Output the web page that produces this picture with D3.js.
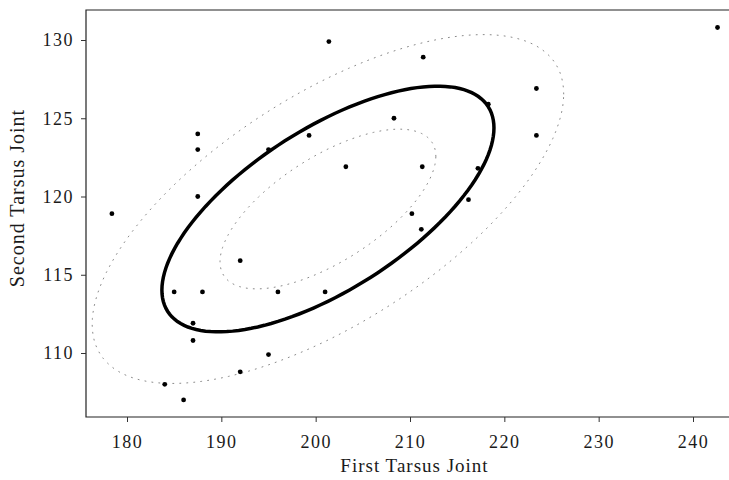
<html>
<head>
  <style>
    body { margin: 0; background: #fff; }
    svg text {
      font-family: "Liberation Serif", "DejaVu Serif", serif;
      fill: #1a1a1a;
    }
    svg .tick text {
      font-size: 18px;
      letter-spacing: 1.5px;
    }
    svg .frame {
      stroke: #222;
      stroke-width: 1.2px;
      fill: none;
    }
  </style>
</head>
<body>
  <div id="chart"></div>
  <script src="https://cdn.jsdelivr.net/npm/d3@7"></script>
  <script>
(function () {
  // data
  var firstJoint  = [178.4, 187.5, 187.5, 187.5, 185, 188, 187, 187, 184, 186,
                     192, 192, 195, 196, 201, 195, 199.3, 201.4, 203.2, 208.3,
                     211.4, 211.3, 210.2, 211.2, 216.2, 217.2, 218.3, 223.4, 223.4, 242.6];
  var secondJoint = [118.9, 124, 123, 120, 113.9, 113.9, 111.9, 110.8, 108, 107,
                     115.9, 108.8, 109.9, 113.9, 113.9, 123, 123.9, 129.9, 121.9, 125,
                     128.9, 121.9, 118.9, 117.9, 119.8, 121.8, 125.9, 126.9, 123.9, 130.8];
  var xTicks = [180, 190, 200, 210, 220, 230, 240];
  var yTicks = [110, 115, 120, 125, 130];

  // ellipse parameters: centre, spread, correlation, contour radii
  var centre = [201.3, 119.2];
  var spread = [17.6, 7.85];
  var rho = 0.66;
  var radii = [0.65, 1, 1.42];

  var W = 729, H = 480;
  var box = { left: 86, right: 729, top: 10, bottom: 417 };

  var svg = d3.select("#chart")
    .append("svg")
      .attr("width", W)
      .attr("height", H);

  var xScale = d3.scaleLinear().domain([180, 240]).range([127, 693]);
  var yScale = d3.scaleLinear().domain([110, 130]).range([353, 40]);

  // frame (open on the right, as in the scan)
  svg.append("path")
    .classed("frame", true)
    .attr("d", "M" + box.right + "," + box.top + "H" + box.left + "V" + box.bottom + "H" + box.right);

  // x axis
  var xAxis = d3.axisBottom(xScale)
    .tickValues(xTicks)
    .tickSize(5)
    .tickSizeOuter(0);

  var xa = svg.append("g")
    .attr("transform", "translate(0," + box.bottom + ")")
    .call(xAxis);
  xa.select(".domain").remove();
  xa.selectAll(".tick line").attr("stroke", "#333");
  xa.selectAll(".tick text").attr("dy", "1.25em");

  // y axis
  var yAxis = d3.axisLeft(yScale)
    .tickValues(yTicks)
    .tickSize(5)
    .tickSizeOuter(0);

  var ya = svg.append("g")
    .attr("transform", "translate(" + box.left + ",0)")
    .call(yAxis);
  ya.select(".domain").remove();
  ya.selectAll(".tick line").attr("stroke", "#333");
  ya.selectAll(".tick text").attr("x", -12);

  // axis titles
  svg.append("text")
    .attr("x", (box.left + box.right) / 2 + 7)
    .attr("y", 472)
    .text("First Tarsus Joint")
    .style("text-anchor", "middle")
    .style("font-size", "19px")
    .style("letter-spacing", "1px");

  svg.append("text")
    .attr("transform", "translate(24,198) rotate(-90)")
    .text("Second Tarsus Joint")
    .style("text-anchor", "middle")
    .style("font-size", "20px")
    .style("letter-spacing", "1px");

  // contour ellipses
  var angles = d3.range(0, 144).map(function (i) { return i / 144 * 2 * Math.PI; });
  function ellipse(r) {
    return angles.map(function (t) {
      return [
        centre[0] + r * spread[0] * Math.cos(t),
        centre[1] + r * spread[1] * (rho * Math.cos(t) + Math.sqrt(1 - rho * rho) * Math.sin(t))
      ];
    });
  }
  var line = d3.line()
    .x(function (d) { return xScale(d[0]); })
    .y(function (d) { return yScale(d[1]); })
    .curve(d3.curveLinearClosed);

  radii.forEach(function (r) {
    var solid = (r === 1);
    svg.append("path")
      .attr("d", line(ellipse(r)))
      .style("fill", "none")
      .style("stroke", solid ? "#000" : "#8a8a8a")
      .style("stroke-width", solid ? "3.5px" : "1px")
      .style("stroke-dasharray", solid ? null : "1,6")
      .style("stroke-linecap", "round");
  });

  // points
  svg.selectAll("circle.pt")
    .data(d3.range(firstJoint.length))
    .enter().append("circle")
      .classed("pt", true)
      .attr("cx", function (i) { return xScale(firstJoint[i]); })
      .attr("cy", function (i) { return yScale(secondJoint[i]); })
      .attr("r", 2.4)
      .style("fill", "#000");
})();
  </script>
</body>
</html>
